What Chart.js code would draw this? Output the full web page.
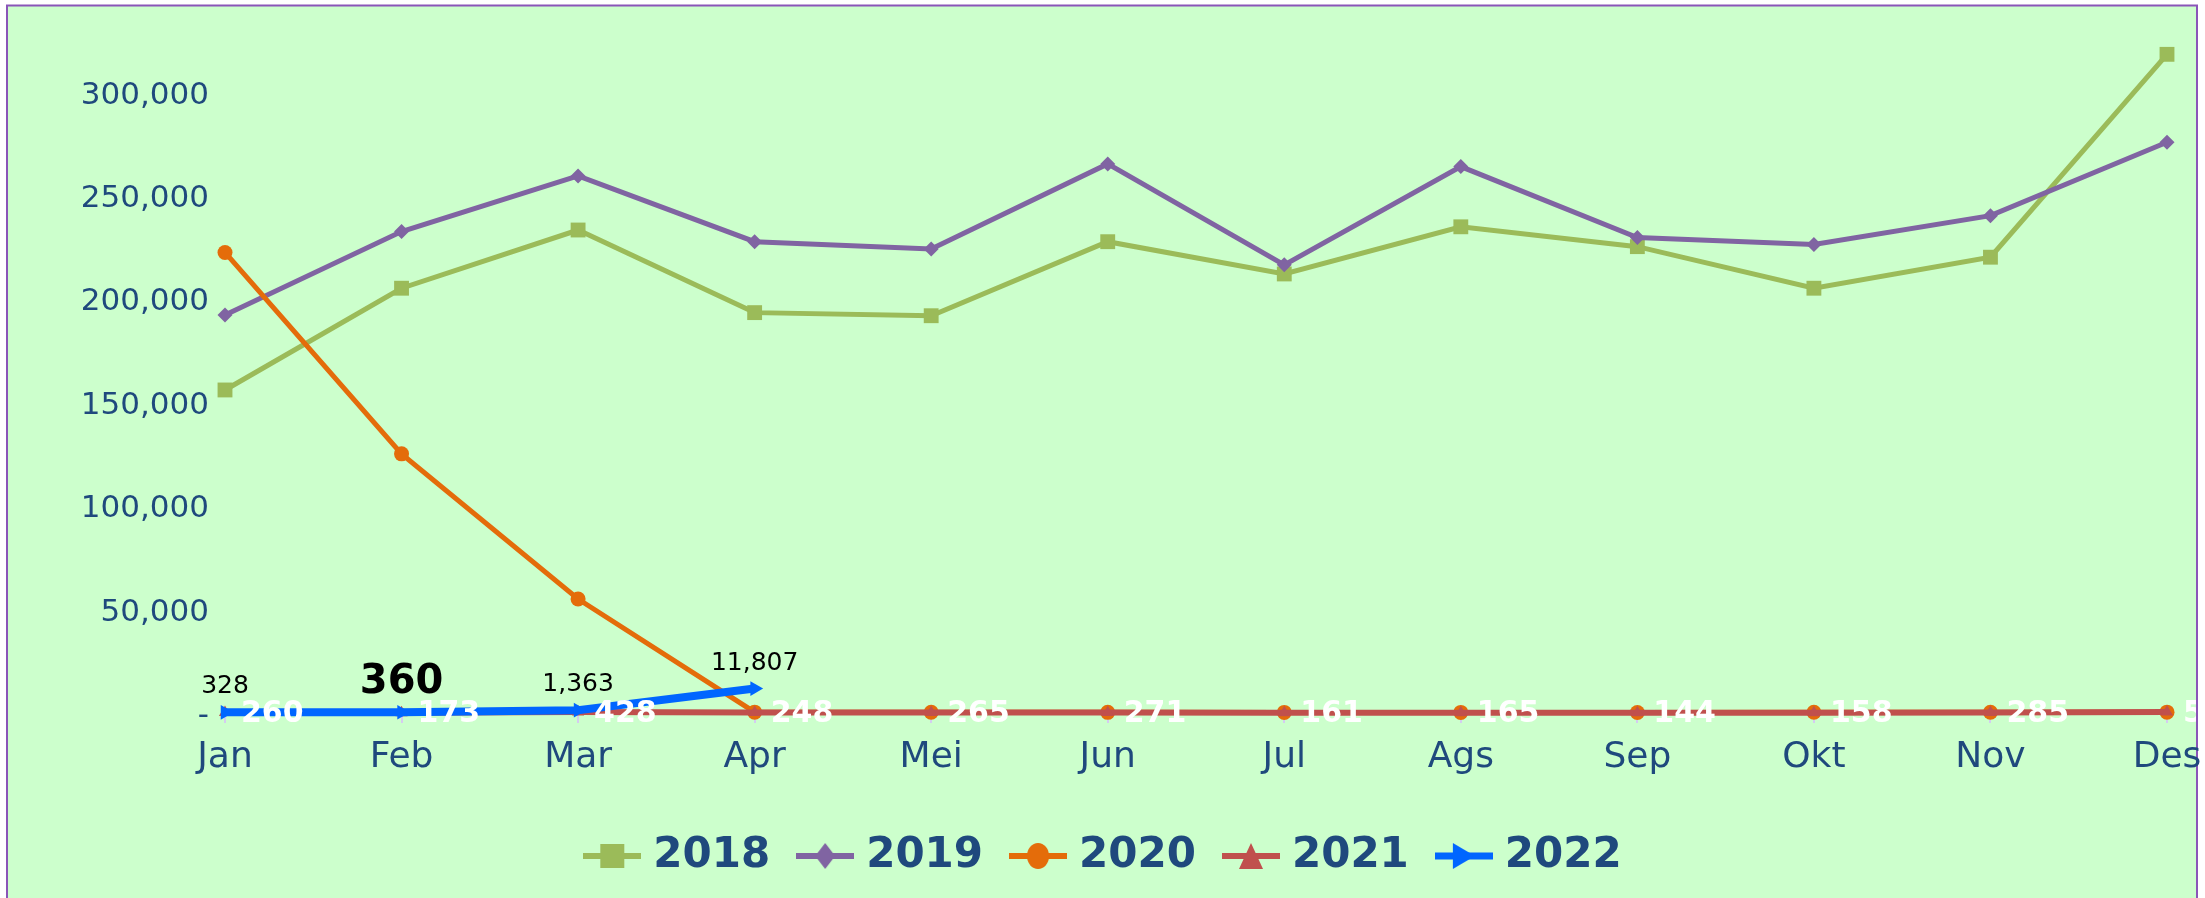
<!DOCTYPE html>
<html><head><meta charset="utf-8">
<script src="https://cdn.jsdelivr.net/npm/chart.js@4.4.1/dist/chart.umd.min.js"></script>
<style>html,body{margin:0;padding:0;background:#fff;overflow:hidden;}</style>
</head><body>
<canvas id="c" width="2205" height="898"></canvas>
<script>
const months = ['Jan','Feb','Mar','Apr','Mei','Jun','Jul','Ags','Sep','Okt','Nov','Des'];
const seriesNames = ['2018','2019','2020','2021','2022'];
const v2018 = [156200, 205400, 233550, 193600, 192100, 227900, 212300, 235100, 225500, 205400, 220400, 318500];
const v2019 = [192500, 232800, 259700, 227900, 224400, 265500, 216700, 264200, 229900, 226600, 240500, 276000];
const v2020 = [222700, 125300, 55100, 420, 390, 310, 280, 300, 270, 350, 330, 410];
const v2021 = [260, 173, 428, 248, 265, 271, 161, 165, 144, 158, 285, 512];
const v2022 = [328, 360, 1363, 11807, null, null, null, null, null, null, null, null];
const yTickValues = [0, 50000, 100000, 150000, 200000, 250000, 300000];

const colors = ['#9BBB59', '#8064A2', '#E46C0A', '#C0504D', '#0066FF'];
const tickColor = '#1F497D';
const FONT = "'DejaVu Sans', sans-serif";

function makeIcon(idx) {
  const c = document.createElement('canvas');
  c.width = 58; c.height = 28;
  const g = c.getContext('2d');
  const col = colors[idx];
  g.fillStyle = col; g.strokeStyle = col;
  g.lineWidth = idx === 4 ? 7 : 6;
  g.beginPath(); g.moveTo(0, 14); g.lineTo(58, 14); g.stroke();
  g.beginPath();
  if (idx === 0) { g.rect(17, 2, 24, 24); }
  else if (idx === 1) { g.moveTo(29, 1); g.lineTo(39, 14); g.lineTo(29, 27); g.lineTo(19, 14); g.closePath(); }
  else if (idx === 2) { g.ellipse(29, 14, 11, 13, 0, 0, Math.PI * 2); }
  else if (idx === 3) { g.moveTo(29, 1); g.lineTo(41, 27); g.lineTo(17, 27); g.closePath(); }
  else { g.moveTo(18, 1); g.lineTo(40, 14); g.lineTo(18, 27); g.closePath(); }
  g.fill();
  return c;
}
const legendIcons = [0,1,2,3,4].map(makeIcon);

const bgPlugin = {
  id: 'bg',
  beforeDraw(chart) {
    const ctx = chart.ctx;
    ctx.save();
    ctx.fillStyle = '#ffffff';
    ctx.fillRect(0, 0, chart.width, chart.height);
    ctx.fillStyle = '#CCFFCC';
    ctx.fillRect(7, 5, 2190, chart.height);
    ctx.strokeStyle = '#8A55B8';
    ctx.lineWidth = 2;
    ctx.strokeRect(7, 5.5, 2190, chart.height + 10);
    ctx.restore();
  }
};

const labelPlugin = {
  id: 'vlabels',
  afterDatasetsDraw(chart) {
    const ctx = chart.ctx;
    ctx.save();
    ctx.beginPath();
    ctx.rect(0, 0, 2196, chart.height);
    ctx.clip();
    const m21 = chart.getDatasetMeta(3);
    ctx.fillStyle = '#ffffff';
    ctx.font = "bold 30px " + FONT;
    ctx.textAlign = 'left';
    ctx.textBaseline = 'middle';
    m21.data.forEach((pt, i) => {
      if (v2021[i] == null) return;
      ctx.fillText(v2021[i].toLocaleString('en-US'), pt.x + 16, pt.y + 2);
    });
    const m22 = chart.getDatasetMeta(4);
    ctx.fillStyle = '#000000';
    ctx.textAlign = 'center';
    ctx.textBaseline = 'alphabetic';
    m22.data.forEach((pt, i) => {
      if (v2022[i] == null) return;
      ctx.font = (i === 1 ? "bold 40px " : "25px ") + FONT;
      ctx.fillText(v2022[i].toLocaleString('en-US'), pt.x, pt.y - 19);
    });
    ctx.restore();
  }
};

const seriesValues = [v2018, v2019, v2020, v2021, v2022];
const pointStyles = ['rect', 'rectRot', 'circle', 'triangle', 'triangle'];
const pointRadii = [10.5, 7.5, 7.5, 7, 8.5];
const lineWidths = [5, 5, 5, 6, 8];

const datasets = seriesNames.map((name, i) => ({
  label: name,
  data: seriesValues[i],
  borderColor: colors[i],
  backgroundColor: colors[i],
  pointBackgroundColor: colors[i],
  pointBorderColor: colors[i],
  pointBorderWidth: 0,
  pointStyle: pointStyles[i],
  pointRadius: pointRadii[i],
  pointRotation: i === 4 ? 90 : 0,
  borderWidth: lineWidths[i],
  tension: 0,
  clip: false,
  spanGaps: false,
  order: 5 - i
}));

new Chart(document.getElementById('c'), {
  type: 'line',
  data: { labels: months, datasets },
  plugins: [bgPlugin, labelPlugin],
  options: {
    responsive: false,
    animation: false,
    devicePixelRatio: 1,
    layout: { padding: { left: 47, right: 38, top: 14, bottom: 11 } },
    plugins: {
      tooltip: { enabled: false },
      legend: {
        position: 'bottom',
        labels: {
          usePointStyle: true,
          pointStyleWidth: 40,
          padding: 35,
          color: tickColor,
          font: { family: FONT, size: 42, weight: 'bold' },
          sort: (a, b) => a.datasetIndex - b.datasetIndex,
          generateLabels(chart) {
            const items = Chart.defaults.plugins.legend.labels.generateLabels(chart);
            items.forEach(it => { it.pointStyle = legendIcons[it.datasetIndex]; it.rotation = 0; });
            return items;
          }
        }
      }
    },
    scales: {
      x: {
        offset: false,
        border: { display: false },
        grid: { display: true, drawOnChartArea: false, drawTicks: true, tickLength: 10, color: '#D4CCF0', lineWidth: 2 },
        ticks: { color: tickColor, padding: 13, maxRotation: 0, autoSkip: false, font: { family: FONT, size: 36 } },
        afterFit(scale) { scale.height = 87; scale.paddingLeft = 0; scale.paddingRight = 0; }
      },
      y: {
        min: 0,
        max: 338000,
        border: { display: false },
        grid: { display: false, drawTicks: false },
        afterBuildTicks(scale) { scale.ticks = yTickValues.map(v => ({ value: v })); },
        ticks: {
          color: tickColor,
          padding: 16,
          labelOffset: 3,
          font: { family: FONT, size: 31 },
          callback: (v) => v === 0 ? '-' : Number(v).toLocaleString('en-US')
        },
        afterFit(scale) { scale.width = 178; scale.paddingTop = 0; }
      }
    }
  }
});
</script>
</body></html>
